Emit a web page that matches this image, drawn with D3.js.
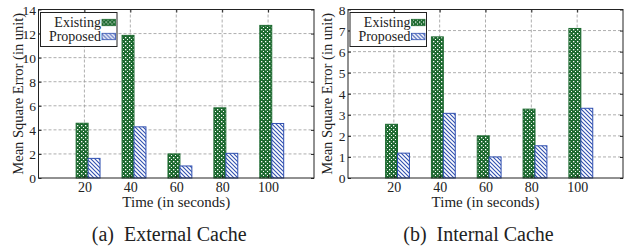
<!DOCTYPE html>
<html>
<head>
<meta charset="utf-8">
<script src="https://cdn.jsdelivr.net/npm/d3@7"></script>
<style>
  body { margin: 0; background: #fff; }
</style>
</head>
<body>
<svg width="629" height="250"></svg>
<script>
// data
const times = [20, 40, 60, 80, 100];
const extExisting = [4.55, 11.85, 2.0, 5.83, 12.68];
const extProposed = [1.63, 4.25, 1.0, 2.05, 4.53];
const intExisting = [2.55, 6.7, 2.0, 3.27, 7.1];
const intProposed = [1.18, 3.07, 1.0, 1.53, 3.31];
const extTicks = [0, 2, 4, 6, 8, 10, 12, 14];
const intTicks = [0, 1, 2, 3, 4, 5, 6, 7, 8];
const seriesNames = ["Existing", "Proposed"];

const serif = "'Liberation Serif', 'Times New Roman', serif";
const svg = d3.select("svg");
const green = "#1d6a30";
const blue = "#3050b0";

// patterns for the bar fills
const defs = svg.append("defs");
const checker = defs.append("pattern")
  .attr("id", "checker")
  .attr("patternUnits", "userSpaceOnUse")
  .attr("width", 4).attr("height", 4);
checker.append("rect").attr("width", 4).attr("height", 4).attr("fill", green);
checker.append("rect").attr("x", 1).attr("y", 1).attr("width", 1.3).attr("height", 1.3).attr("fill", "#fff");
checker.append("rect").attr("x", 3).attr("y", 3).attr("width", 1.3).attr("height", 1.3).attr("fill", "#fff");

const hatch = defs.append("pattern")
  .attr("id", "hatch")
  .attr("patternUnits", "userSpaceOnUse")
  .attr("width", 4).attr("height", 4);
hatch.append("rect").attr("width", 4).attr("height", 4).attr("fill", "#fff");
hatch.append("path")
  .attr("d", "M-1,-1 L5,5 M-1,3 L1,5 M3,-1 L5,1")
  .attr("stroke", blue).attr("stroke-width", 1.1);

function label(sel, size) {
  return sel.attr("font-family", serif).attr("font-size", size).attr("fill", "#222");
}

function drawChart(left, right, existing, proposed, maxY, yTicks, caption) {
  const top = 9.5, bottom = 178;

  const x = d3.scaleLinear().domain([0, 6]).range([left, right]);
  const y = d3.scaleLinear().domain([0, maxY]).range([bottom, top]);
  const g = svg.append("g");

  // grid
  g.selectAll(".gx").data(times).enter().append("line")
    .attr("x1", (d, i) => x(i + 1)).attr("x2", (d, i) => x(i + 1))
    .attr("y1", top).attr("y2", bottom)
    .attr("stroke", "#999").attr("stroke-dasharray", "3,2").attr("stroke-width", 0.8);
  g.selectAll(".gy").data(yTicks.slice(1, -1)).enter().append("line")
    .attr("x1", left).attr("x2", right)
    .attr("y1", d => y(d)).attr("y2", d => y(d))
    .attr("stroke", "#999").attr("stroke-dasharray", "3,2").attr("stroke-width", 0.8);

  // bars
  const bw = 0.26;
  g.selectAll(".ex").data(existing).enter().append("rect")
    .attr("x", (d, i) => x(i + 1 - 0.18))
    .attr("width", x(bw) - x(0))
    .attr("y", d => y(d))
    .attr("height", d => y(0) - y(d))
    .attr("fill", "url(#checker)")
    .attr("stroke", green).attr("stroke-width", 1);
  g.selectAll(".pr").data(proposed).enter().append("rect")
    .attr("x", (d, i) => x(i + 1 - 0.18 + bw))
    .attr("width", x(bw) - x(0))
    .attr("y", d => y(d))
    .attr("height", d => y(0) - y(d))
    .attr("fill", "url(#hatch)")
    .attr("stroke", blue).attr("stroke-width", 1);

  // axes
  const yAxis = d3.axisLeft(y).tickValues(yTicks).tickSize(-3).tickPadding(2.5);
  const ya = g.append("g").attr("transform", `translate(${left},0)`).call(yAxis);
  ya.select(".domain").remove();
  label(ya.selectAll("text"), 13.5).attr("dy", "0.35em");
  const yAxisR = d3.axisRight(y).tickValues(yTicks).tickSize(-3).tickFormat("");
  g.append("g").attr("transform", `translate(${right},0)`).call(yAxisR)
    .call(a => a.select(".domain").remove());

  const xAxis = d3.axisBottom(x).tickValues([1, 2, 3, 4, 5])
    .tickFormat((d, i) => times[i]).tickSize(-3).tickPadding(4);
  const xa = g.append("g").attr("transform", `translate(0,${bottom})`).call(xAxis);
  xa.select(".domain").remove();
  label(xa.selectAll("text"), 14);
  const xAxisT = d3.axisTop(x).tickValues([1, 2, 3, 4, 5]).tickSize(-3).tickFormat("");
  g.append("g").attr("transform", `translate(0,${top})`).call(xAxisT)
    .call(a => a.select(".domain").remove());

  g.selectAll(".tick line").attr("stroke", "#222");

  // frame
  g.append("rect")
    .attr("x", left).attr("y", top)
    .attr("width", right - left).attr("height", bottom - top)
    .attr("fill", "none").attr("stroke", "#222").attr("stroke-width", 1);

  // axis titles
  label(g.append("text"), 15)
    .attr("x", (left + right) / 2).attr("y", 207)
    .attr("text-anchor", "middle")
    .text("Time (in seconds)");
  label(g.append("text"), 14.5)
    .attr("transform", `translate(${left - 16},${(top + bottom) / 2}) rotate(-90)`)
    .attr("text-anchor", "middle")
    .text("Mean Square Error (in unit)");

  // legend
  const lg = g.append("g").attr("transform", `translate(${left + 2},12.5)`);
  lg.append("rect").attr("width", 76.5).attr("height", 34)
    .attr("fill", "#fff").attr("stroke", "#222").attr("stroke-width", 1);
  const fills = ["url(#checker)", "url(#hatch)"];
  const strokes = [green, blue];
  seriesNames.forEach((name, i) => {
    label(lg.append("text"), 14).attr("x", 60.5).attr("y", 14.6 + i * 13.4)
      .attr("text-anchor", "end").text(name);
    lg.append("rect").attr("x", 61.5).attr("y", 6.8 + i * 14)
      .attr("width", 13.5).attr("height", 6.4)
      .attr("fill", fills[i]).attr("stroke", strokes[i]).attr("stroke-width", 0.8);
  });

  // caption
  label(svg.append("text"), 20)
    .attr("x", (left + right) / 2 - 7).attr("y", 241)
    .attr("text-anchor", "middle")
    .attr("xml:space", "preserve")
    .text(caption);
}

drawChart(38.5, 314, extExisting, extProposed, 14, extTicks, "(a)  External Cache");
drawChart(348, 623, intExisting, intProposed, 8, intTicks, "(b)  Internal Cache");
</script>
</body>
</html>
